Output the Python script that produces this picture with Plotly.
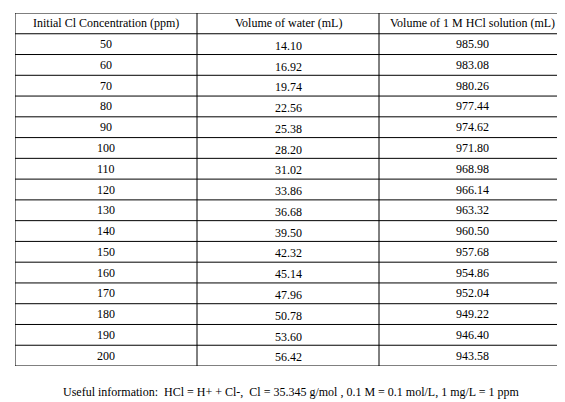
import plotly.graph_objects as go

headers = ["Initial Cl Concentration (ppm)", "Volume of water (mL)", "Volume of 1 M HCl solution (mL)"]
conc = [50, 60, 70, 80, 90, 100, 110, 120, 130, 140, 150, 160, 170, 180, 190, 200]
water = ["14.10", "16.92", "19.74", "22.56", "25.38", "28.20", "31.02", "33.86", "36.68", "39.50",
         "42.32", "45.14", "47.96", "50.78", "53.60", "56.42"]
hcl = ["985.90", "983.08", "980.26", "977.44", "974.62", "971.80", "968.98", "966.14", "963.32",
       "960.50", "957.68", "954.86", "952.04", "949.22", "946.40", "943.58"]
note = "Useful information:  HCl = H+ + Cl-,  Cl = 35.345 g/mol , 0.1 M = 0.1 mol/L, 1 mg/L = 1 ppm"

col_edges = [0, 182, 364, 551]
nrows = len(conc) + 1
font = dict(family="Liberation Serif", size=12, color="black")

fig = go.Figure()
columns = [[str(c) for c in conc], water, hcl]
for ci in range(3):
    xc = (col_edges[ci] + col_edges[ci + 1]) / 2
    fig.add_annotation(x=xc, y=0.5, text=headers[ci], showarrow=False, font=font)
    for ri, v in enumerate(columns[ci]):
        fig.add_annotation(x=xc, y=ri + 1.5 + (0.08 if ci == 1 else 0), text=v, showarrow=False, font=font)
for xe in col_edges:
    fig.add_shape(type="line", x0=xe, x1=xe, y0=0, y1=nrows, line=dict(color="black", width=1))
for r in range(nrows + 1):
    fig.add_shape(type="line", x0=0, x1=col_edges[-1], y0=r, y1=r, line=dict(color="black", width=1))
fig.add_annotation(text=note, x=0.5, y=-0.075, xref="paper", yref="paper", xanchor="center",
                   yanchor="middle", showarrow=False, font=font)
fig.update_xaxes(range=[0, 551], visible=False, fixedrange=True)
fig.update_yaxes(range=[nrows, 0], visible=False, fixedrange=True)
fig.update_layout(width=565, height=402, margin=dict(l=7, r=7, t=5, b=44),
                  paper_bgcolor="white", plot_bgcolor="white", showlegend=False)
fig.write_html("out.html")
